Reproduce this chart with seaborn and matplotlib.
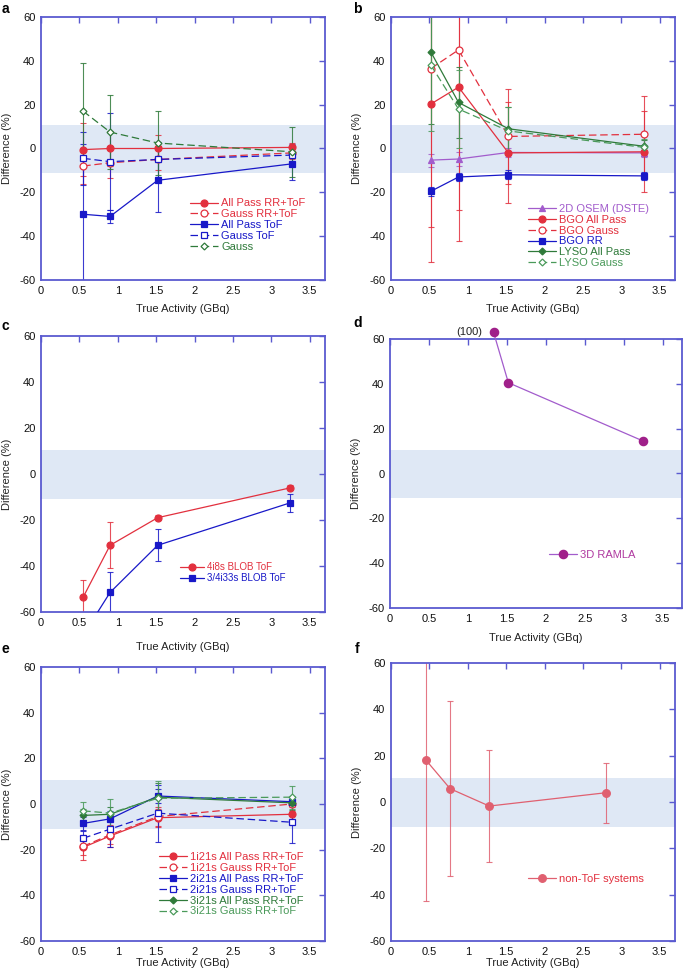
import matplotlib
import seaborn as sns

matplotlib.use("Agg")
import matplotlib.pyplot as plt  # noqa: E402

# ---- data ----
X_A = [0.55, 0.9, 1.52, 3.27]
A_LABELS = ["All Pass RR+ToF", "Gauss RR+ToF", "All Pass ToF", "Gauss ToF", "Gauss"]
A_VALUES = [
    [-0.5, 0.0, 0.0, 0.5],
    [-8.0, -6.5, -5.0, -2.0],
    [-30.0, -31.0, -14.5, -7.0],
    [-4.5, -6.0, -5.0, -3.0],
    [17.0, 7.5, 2.5, -1.5],
]
A_ERRORS = [
    [12, 8, 6, 2],
    [8, 7, 5, 3],
    [32, 3, 14.5, 7.5],
    [12, 22, 8, 5],
    [22, 17, 14.5, 11.5],
]

X_B = [0.52, 0.88, 1.53, 3.3]
B_LABELS = ["2D OSEM (DSTE)", "BGO All Pass", "BGO Gauss", "BGO RR", "LYSO All Pass", "LYSO Gauss"]
B_VALUES = [
    [-5.3, -4.8, -1.8, -2.0],
    [20.3, 28.0, -2.0, -1.5],
    [36.5, 45.0, 5.5, 6.5],
    [-19.5, -13.0, -12.0, -12.5],
    [44.0, 21.0, 9.0, 1.0],
    [38.0, 18.0, 8.0, 0.5],
]
B_ERRORS = [
    [3, 3, 2, 2],
    [72, 70, 23, 18.5],
    [72.5, 73, 21.5, 17.5],
    [2, 2, 2, 2],
    [33, 16, 10, 3],
    [30, 18, 11, 4],
]

X_C = [0.55, 0.9, 1.52, 3.25]
C_LABELS = ["4i8s BLOB ToF", "3/4i33s BLOB ToF"]
C_VALUES = [
    [-53.5, -31.0, -19.0, -6.0],
    [-70.0, -51.5, -31.0, -12.5],
]
C_ERRORS = [
    [7.5, 10, 1, 1],
    [9, 9, 7, 4],
]

X_D = [1.33, 1.52, 3.25]
D_LABEL = "3D RAMLA"
D_VALUES = [63.0, 40.5, 14.5]
D_NOTE = "(100)"

X_E = [0.55, 0.9, 1.52, 3.27]
E_LABELS = [
    "1i21s All Pass RR+ToF", "1i21s Gauss RR+ToF",
    "2i21s All Pass RR+ToF", "2i21s Gauss RR+ToF",
    "3i21s All Pass RR+ToF", "3i21s Gauss RR+ToF",
]
E_VALUES = [
    [-19.0, -14.0, -6.0, -4.5],
    [-18.5, -13.5, -5.5, 0.0],
    [-8.5, -6.5, 3.5, 1.0],
    [-15.0, -11.0, -4.0, -8.0],
    [-5.0, -4.5, 3.0, 0.5],
    [-3.0, -4.0, 2.5, 3.0],
]
E_ERRORS = [
    [5.5, 5, 4, 3],
    [4, 4, 4, 3],
    [3, 3, 3, 2],
    [3, 8, 12.5, 9],
    [3, 3, 6, 3],
    [4, 6, 7.5, 5],
]

X_F = [0.45, 0.77, 1.28, 2.8]
F_LABEL = "non-ToF systems"
F_VALUES = [18.3, 5.75, -1.75, 4.0]
F_ERRORS = [61, 37.75, 24.25, 13]

BAND = (-11, 10.5)

# ---- styles ----
RED = "#e2303e"
BLUE = "#1818c8"
GREEN = "#2f7a3a"
LGREEN = "#4a9a5a"
PURPLE = "#a25ccc"
FRAME = "#5a5ad0"
BAND_COLOR = "#dfe8f5"
FS = 8

sns.set_theme(style="white")
plt.rcParams["font.family"] = ["Liberation Sans", "DejaVu Sans"]
plt.rcParams["axes.unicode_minus"] = False

FIG_W, FIG_H = 685, 971
fig = plt.figure(figsize=(6.85, 9.71), dpi=100)


def make_axes(left, right, top, bottom, xmax=3.7):
    ax = fig.add_axes([left / FIG_W, 1 - bottom / FIG_H, (right - left) / FIG_W, (bottom - top) / FIG_H])
    ax.set_xlim(0, xmax)
    ax.set_ylim(-60, 60)
    ax.set_xticks([0, 0.5, 1, 1.5, 2, 2.5, 3, 3.5])
    ax.set_xticklabels(["0", "0.5", "1", "1.5", "2", "2.5", "3", "3.5"])
    ax.set_yticks([-60, -40, -20, 0, 20, 40, 60])
    ax.tick_params(direction="in", length=4, width=1, color=FRAME, labelsize=FS,
                   top=True, right=True, pad=4, labelcolor="#111111")
    for sp in ax.spines.values():
        sp.set_color(FRAME)
        sp.set_linewidth(1.3)
    ax.axhspan(BAND[0], BAND[1], color=BAND_COLOR, lw=0, zorder=0)
    ax.set_ylabel("Difference (%)", fontsize=FS, color="#222222")
    ax.yaxis.set_label_coords(-0.118, 0.5)
    ax.yaxis.label.set_va("center")
    return ax


def set_xlabel(ax, offset):
    ax.set_xlabel("True Activity (GBq)", fontsize=FS, color="#222222")
    ax.xaxis.set_label_coords(0.5, offset)
    ax.xaxis.label.set_va("center")


def draw_series(ax, x, y, err, label, color, marker, filled=True, dashed=False, ms=5,
                line_color=None, clip=True):
    if err is not None:
        ax.errorbar(x, y, yerr=err, fmt="none", ecolor=color, elinewidth=0.8,
                    capsize=2, capthick=0.8, zorder=2, alpha=0.85)
    sns.lineplot(
        x=x, y=y, ax=ax, sort=False, estimator=None, label=label,
        color=line_color or color, linewidth=0.9,
        linestyle=(0, (6, 3)) if dashed else "-",
        marker=marker, markersize=ms,
        markerfacecolor=color if filled else "white",
        markeredgecolor=color, markeredgewidth=0.9,
        zorder=3, clip_on=clip,
    )


def add_legend(ax, colors, x0, y0, fontsize=FS, handlelength=2.5):
    leg = ax.legend(loc="upper left", bbox_to_anchor=(x0, y0), frameon=False,
                    fontsize=fontsize, handlelength=handlelength, labelspacing=0.08,
                    handletextpad=0.3, borderpad=0, borderaxespad=0)
    for text, c in zip(leg.get_texts(), colors):
        text.set_color(c)


# ---- panel a ----
ax = make_axes(41, 325, 17, 280)
a_styles = [
    (RED, "o", True, False, 5),
    (RED, "o", False, True, 5),
    (BLUE, "s", True, False, 5),
    (BLUE, "s", False, True, 5),
    (GREEN, "D", False, True, 3.5),
]
for vals, errs, lab, (c, m, f, d, ms) in zip(A_VALUES, A_ERRORS, A_LABELS, a_styles):
    draw_series(ax, X_A, vals, errs, lab, c, m, filled=f, dashed=d, ms=ms)
add_legend(ax, [s[0] for s in a_styles], 0.525, 0.31)
set_xlabel(ax, -0.11)

# ---- panel b ----
ax = make_axes(391, 675, 17, 280)
b_styles = [
    (PURPLE, "^", True, False, 4),
    (RED, "o", True, False, 5),
    (RED, "o", False, True, 5),
    (BLUE, "s", True, False, 5),
    (GREEN, "D", True, False, 3.5),
    (LGREEN, "D", False, True, 3.5),
]
for vals, errs, lab, (c, m, f, d, ms) in zip(B_VALUES, B_ERRORS, B_LABELS, b_styles):
    draw_series(ax, X_B, vals, errs, lab, c, m, filled=f, dashed=d, ms=ms)
add_legend(ax, [s[0] for s in b_styles], 0.482, 0.29)
set_xlabel(ax, -0.11)

# ---- panel c ----
ax = make_axes(41, 325, 336, 612)
c_styles = [(RED, "o"), (BLUE, "s")]
for vals, errs, lab, (c, m) in zip(C_VALUES, C_ERRORS, C_LABELS, c_styles):
    draw_series(ax, X_C, vals, errs, lab, c, m, ms=5)
add_legend(ax, [s[0] for s in c_styles], 0.49, 0.18, fontsize=7)
set_xlabel(ax, -0.127)

# ---- panel d ----
ax = make_axes(390, 682, 339, 608, xmax=3.75)
draw_series(ax, X_D, D_VALUES, None, D_LABEL, "#a0208a", "o", ms=6,
            line_color=PURPLE, clip=False)
ax.annotate(D_NOTE, xy=(X_D[0], D_VALUES[0]), xytext=(-8, 0), textcoords="offset points",
            ha="right", va="center", fontsize=FS, color="#222222", annotation_clip=False)
add_legend(ax, ["#b03aa0"], 0.545, 0.215)
set_xlabel(ax, -0.11)

# ---- panel e ----
ax = make_axes(41, 325, 667, 941)
e_styles = [
    (RED, "o", True, False, 5),
    (RED, "o", False, True, 5),
    (BLUE, "s", True, False, 5),
    (BLUE, "s", False, True, 5),
    (GREEN, "D", True, False, 3.5),
    (LGREEN, "D", False, True, 3.5),
]
for vals, errs, lab, (c, m, f, d, ms) in zip(E_VALUES, E_ERRORS, E_LABELS, e_styles):
    draw_series(ax, X_E, vals, errs, lab, c, m, filled=f, dashed=d, ms=ms)
add_legend(ax, [s[0] for s in e_styles], 0.415, 0.325)
set_xlabel(ax, -0.08)

# ---- panel f ----
ax = make_axes(391, 675, 663, 941)
draw_series(ax, X_F, F_VALUES, F_ERRORS, F_LABEL, "#e06070", "o", ms=5.5)
add_legend(ax, [RED], 0.482, 0.242)
set_xlabel(ax, -0.079)

# ---- panel letters ----
for letter, px, py in [("a", 2, 13), ("b", 353, 13), ("c", 2, 330), ("d", 353, 327),
                       ("e", 2, 653), ("f", 355, 653)]:
    fig.text(px / FIG_W, 1 - py / FIG_H, letter, fontsize=10, fontweight="bold",
             ha="left", va="baseline", color="black")

fig.savefig("out.png", dpi=100)
